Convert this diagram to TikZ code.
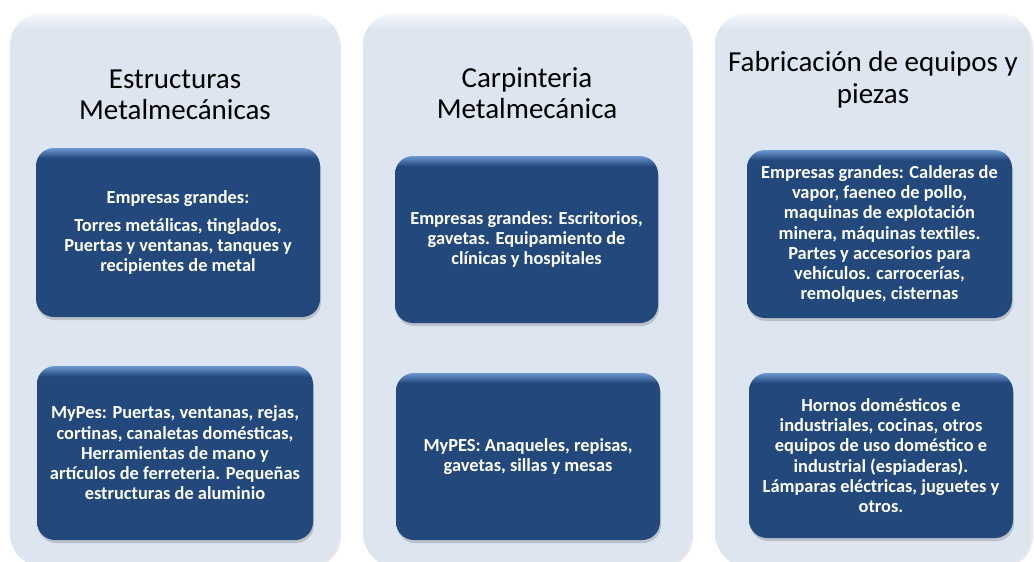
\documentclass[tikz,border=0pt]{standalone}
\usepackage{fontspec}
\setmainfont{Carlito}
\usepackage{xcolor}
\usepackage{tikz}
\usetikzlibrary{shadows, positioning}
\definecolor{panelbg}{HTML}{DCE5F0}
\definecolor{paneltop}{HTML}{F8FAFD}
\definecolor{boxblue}{HTML}{23487C}
\definecolor{boxtop}{HTML}{6C98D2}
\pgfdeclareverticalshading{panelshade}{100bp}{color(0bp)=(panelbg); color(25bp)=(panelbg); color(73.5bp)=(panelbg); color(75bp)=(paneltop); color(100bp)=(paneltop)}
\pgfdeclareverticalshading{boxshade}{100bp}{color(0bp)=(boxblue); color(25bp)=(boxblue); color(72bp)=(boxblue); color(75bp)=(boxtop); color(100bp)=(boxtop)}

\begin{document}
\begin{tikzpicture}[x=1pt, y=-1pt,
            panel/.style={rectangle, rounded corners=32pt, shading=panelshade, minimum height=553pt,
                drop shadow={opacity=0.18, shadow xshift=2pt, shadow yshift=-2pt}},
            title/.style={align=center, text=black, font=\fontsize{29}{31.5}\selectfont},
            box/.style={rectangle, rounded corners=18pt, shading=boxshade, align=center, text=white,
                font=\fontsize{18.4}{20.3}\selectfont\bfseries,
                drop shadow={opacity=0.35, shadow xshift=1pt, shadow yshift=-3pt}}]

            \useasboundingbox (0,0) rectangle (1034,562);
            \clip (0,0) rectangle (1034,562);

            \node[panel, minimum width=329pt] (estr) at (174.5,289.5) {};
            \node[panel, minimum width=328pt] (carp) at (527,289.5) {};
            \node[panel, minimum width=316pt] (fabr) at (873,289.5) {};

            \node[title] (estrtitle) at (175,95) {Estructuras\\Metalmecánicas};
            \node[title] (carptitle) at (527,93) {Carpinteria\\Metalmecánica};
            \node[title] (fabrtitle) at (873,80) {Fabricación de equipos y\\piezas};

            \node[box, minimum width=284pt, minimum height=169pt] (estrgr) at (178,232.5)
                {Empresas grandes:\\[8pt]Torres metálicas, tinglados,\\Puertas y ventanas, tanques y\\recipientes de metal};
            \node[box, minimum width=276pt, minimum height=174pt] (estrmy) at (175,453)
                {MyPes: Puertas, ventanas, rejas,\\cortinas, canaletas domésticas,\\Herramientas de mano y\\artículos de ferreteria. Pequeñas\\estructuras de aluminio};
            \node[box, minimum width=263pt, minimum height=167pt] (carpgr) at (526.5,239.5)
                {Empresas grandes: Escritorios,\\gavetas. Equipamiento de\\clínicas y hospitales};
            \node[box, minimum width=264pt, minimum height=167pt] (carpmy) at (528,456.5)
                {MyPES: Anaqueles, repisas,\\gavetas, sillas y mesas};
            \node[box, minimum width=265pt, minimum height=168pt] (fabrgr) at (879.5,234)
                {Empresas grandes: Calderas de\\vapor, faeneo de pollo,\\maquinas de explotación\\minera, máquinas textiles.\\Partes y accesorios para\\vehículos. carrocerías,\\remolques, cisternas};
            \node[box, minimum width=264pt, minimum height=165pt] (fabrmy) at (881,455.5)
                {Hornos domésticos e\\industriales, cocinas, otros\\equipos de uso doméstico e\\industrial (espiaderas).\\Lámparas eléctricas, juguetes y\\otros.};
        \end{tikzpicture}
\end{document}
